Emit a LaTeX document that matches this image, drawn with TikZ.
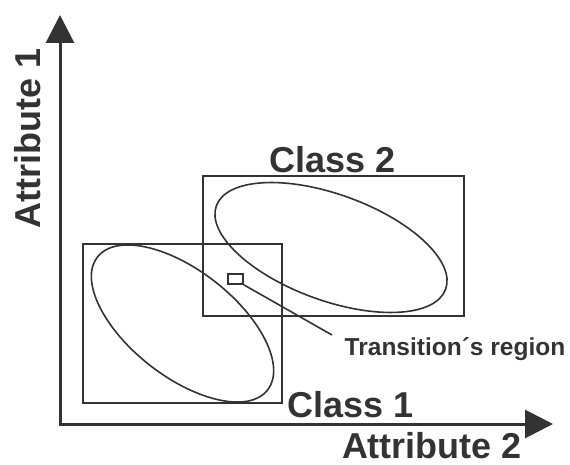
\documentclass[tikz,border=0pt]{standalone}
\usepackage{fontspec}
\setmainfont{Liberation Sans}
\usetikzlibrary{shapes.geometric, arrows.meta, positioning}

\begin{document}
\begin{tikzpicture}[
        x=1pt, y=-1pt,
        % axes with their triangle heads
        axis/.style={line width=3pt, draw=black!80, {Triangle[length=28pt, width=28pt]}-{Triangle[length=28pt, width=28pt]}},
        % the boxes round each class
        classbox/.style={rectangle, draw=black!80, line width=2pt, inner sep=0pt},
        % the ellipses inside the boxes
        blob/.style={ellipse, draw=black!80, line width=1.6pt, inner sep=0pt},
        % the labels
        biglabel/.style={text=black!80, font=\fontsize{36}{40}\selectfont\bfseries, inner sep=0pt},
        smalllabel/.style={text=black!80, font=\fontsize{24.5}{28}\selectfont\bfseries, inner sep=0pt}
    ]
    \useasboundingbox (0,0) rectangle (570,465);

    % --- THE AXES ---
    \coordinate (ytip) at (60,15);
    \coordinate (xtip) at (553,424);
    \draw [axis] (ytip) |- (xtip);

    \node (attr1) [biglabel, rotate=90] at (28,138) {Attribute 1};
    \node (attr2) [biglabel] at (432,446) {Attribute 2};

    % --- THE CLASSES ---
    \node (c1box) [classbox, minimum width=199pt, minimum height=159pt] at (182.5,323.5) {};
    \node (c2box) [classbox, minimum width=261pt, minimum height=140pt] at (333.5,246) {};

    \node (c1blob) [blob, minimum width=216pt, minimum height=106pt, rotate=-38] at (c1box.center) {};
    \node (c2blob) [blob, minimum width=244pt, minimum height=106pt, rotate=-20] at (331,247.5) {};

    \node (c1label) [biglabel] at (351,405) {Class 1};
    \node (c2label) [biglabel] at (333,160) {Class 2};

    % --- THE TRANSITION REGION ---
    \node (trans) [classbox, line width=1.6pt, minimum width=15pt, minimum height=10pt] at (235.5,279) {};
    \node (translabel) [smalllabel] at (455,349) {Transition´s region};
    \coordinate (transend) at (332,335);
    \draw [draw=black!80, line width=1.6pt] (trans.south east) -- (transend);

\end{tikzpicture}
\end{document}
